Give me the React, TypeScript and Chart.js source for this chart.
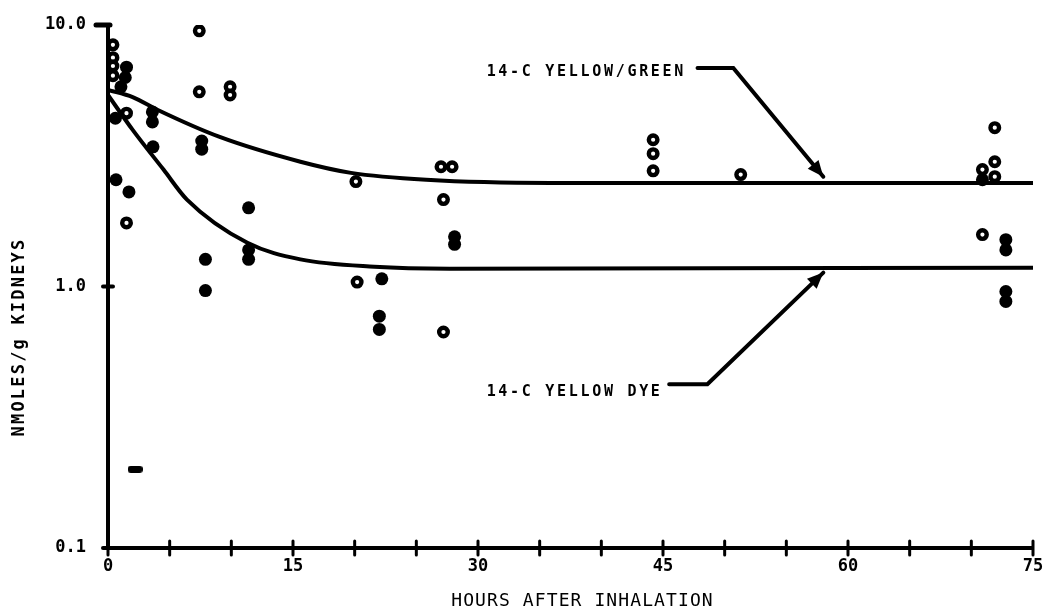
import React, { useEffect, useRef } from 'react';
import { Chart, registerables } from 'chart.js';

Chart.register(...registerables);

// ---- axis tick labels ----
const xTickLabels = [0, 15, 30, 45, 60, 75];
const yTickValues = [0.1, 1.0, 10.0];

// ---- 14-C yellow/green (open circles) ----
const greenHours = [0.4, 0.4, 0.4, 0.4, 1.5, 1.5, 7.4, 7.4, 9.9, 9.9, 20.1, 20.2, 27.2, 27.0, 27.9, 27.2, 44.2, 44.2, 44.2, 51.3, 71.9, 71.9, 71.9, 70.9, 70.9];
const greenValues = [8.4, 7.5, 6.97, 6.4, 4.6, 1.75, 9.5, 5.55, 5.8, 5.4, 2.52, 1.04, 2.15, 2.87, 2.87, 0.67, 3.64, 3.22, 2.77, 2.68, 4.05, 3.0, 2.63, 1.58, 2.8];

// ---- 14-C yellow dye (filled dots) ----
const dyeHours = [1.5, 1.4, 1.05, 0.6, 0.65, 1.7, 3.6, 3.6, 3.65, 7.6, 7.6, 7.9, 7.9, 11.4, 11.4, 11.4, 22.2, 22.0, 22.0, 28.1, 28.1, 72.8, 72.8, 72.8, 72.8, 70.9];
const dyeValues = [6.9, 6.3, 5.8, 4.4, 2.56, 2.3, 4.65, 4.26, 3.42, 3.6, 3.35, 1.27, 0.965, 2.0, 1.38, 1.27, 1.07, 0.77, 0.685, 1.55, 1.45, 1.51, 1.38, 0.957, 0.877, 2.56];

// ---- stray dash mark ----
const dashHours = [2.2];
const dashValues = [0.2];

// ---- fitted curves ----
const greenCurveHours = [0, 2, 4, 9, 15.6, 19.7, 25.8, 35.9, 75];
const greenCurveValues = [5.65, 5.3, 4.74, 3.74, 3.0, 2.72, 2.56, 2.49, 2.49];
const dyeCurveHours = [0, 2, 4.5, 6.4, 11.3, 15.6, 21.6, 27.7, 75];
const dyeCurveValues = [5.4, 3.97, 2.8, 2.15, 1.47, 1.27, 1.19, 1.17, 1.18];

// ---- annotation labels (data coordinates) ----
const annotations = [
  { text: '14-C YELLOW/GREEN', at: [30.7, 6.59], path: [[47.8, 6.85], [50.7, 6.85], [58.0, 2.63]] },
  { text: '14-C YELLOW DYE', at: [30.7, 0.394], path: [[45.5, 0.423], [48.6, 0.423], [58.0, 1.13]] },
];

const xTitle = 'HOURS AFTER INHALATION';
const yTitle = 'NMOLES/g KIDNEYS';

const pts = (xs: number[], ys: number[]) => xs.map((x, i) => ({ x, y: ys[i] }));

function makeDash(): HTMLCanvasElement {
  const c = document.createElement('canvas');
  c.width = 15;
  c.height = 7;
  const g = c.getContext('2d')!;
  g.fillStyle = '#000';
  g.beginPath();
  (g as any).roundRect ? (g as any).roundRect(0, 0, 15, 7, 3) : g.rect(0, 0, 15, 7);
  g.fill();
  return c;
}

const decorPlugin = {
  id: 'decor',
  afterDraw(chart: any) {
    const { ctx, scales } = chart;
    const x = scales.x;
    const y = scales.y;
    ctx.save();
    ctx.strokeStyle = '#000';
    ctx.fillStyle = '#000';
    ctx.lineCap = 'round';
    // x tick marks crossing the axis
    ctx.lineWidth = 3;
    x.ticks.forEach((t: any) => {
      const px = x.getPixelForValue(t.value);
      ctx.beginPath();
      ctx.moveTo(px, y.bottom - 7);
      ctx.lineTo(px, y.bottom + 7);
      ctx.stroke();
    });
    // y tick marks
    yTickValues.forEach((v) => {
      const py = y.getPixelForValue(v);
      ctx.beginPath();
      if (v === 10) {
        ctx.lineWidth = 5;
        ctx.moveTo(x.left - 12, py);
        ctx.lineTo(x.left + 2, py);
      } else {
        ctx.lineWidth = 4;
        ctx.moveTo(x.left - 5, py);
        ctx.lineTo(x.left + 5, py);
      }
      ctx.stroke();
    });
    // annotations
    ctx.font = 'bold 15px "DejaVu Sans Mono"';
    (ctx as any).letterSpacing = '2.7px';
    ctx.textBaseline = 'middle';
    ctx.textAlign = 'left';
    annotations.forEach((a) => {
      ctx.fillText(a.text, x.getPixelForValue(a.at[0]), y.getPixelForValue(a.at[1]));
      const p = a.path.map(([hx, hv]) => [x.getPixelForValue(hx), y.getPixelForValue(hv)]);
      ctx.lineWidth = 4;
      ctx.lineCap = 'round';
      ctx.beginPath();
      ctx.moveTo(p[0][0], p[0][1]);
      for (let i = 1; i < p.length; i++) ctx.lineTo(p[i][0], p[i][1]);
      ctx.stroke();
      const [x1, y1] = p[p.length - 2];
      const [x2, y2] = p[p.length - 1];
      const ang = Math.atan2(y2 - y1, x2 - x1);
      const L = 16, W = 7;
      ctx.beginPath();
      ctx.moveTo(x2, y2);
      ctx.lineTo(x2 - L * Math.cos(ang) + W * Math.sin(ang), y2 - L * Math.sin(ang) - W * Math.cos(ang));
      ctx.lineTo(x2 - L * Math.cos(ang) - W * Math.sin(ang), y2 - L * Math.sin(ang) + W * Math.cos(ang));
      ctx.closePath();
      ctx.fill();
    });
    // axis titles
    ctx.font = '18px "DejaVu Sans Mono"';
    (ctx as any).letterSpacing = '1.1px';
    ctx.textAlign = 'center';
    ctx.fillText(xTitle, (x.left + x.right) / 2 + 12, 601);
    ctx.translate(20, 337);
    ctx.rotate(-Math.PI / 2);
    ctx.font = 'bold 17px "DejaVu Sans Mono"';
    (ctx as any).letterSpacing = '2.2px';
    ctx.fillText(yTitle, 0, 0);
    ctx.restore();
  },
};

export default function App() {
  const ref = useRef<HTMLCanvasElement | null>(null);
  useEffect(() => {
    if (!ref.current) return;
    const chart = new Chart(ref.current, {
      type: 'scatter',
      data: {
        datasets: [
          {
            label: 'yellow/green curve',
            data: pts(greenCurveHours, greenCurveValues),
            showLine: true,
            cubicInterpolationMode: 'monotone',
            borderColor: '#000',
            borderWidth: 4,
            pointRadius: 0,
          },
          {
            label: 'yellow dye curve',
            data: pts(dyeCurveHours, dyeCurveValues),
            showLine: true,
            cubicInterpolationMode: 'monotone',
            borderColor: '#000',
            borderWidth: 4,
            pointRadius: 0,
          },
          {
            label: '14-C yellow/green',
            data: pts(greenHours, greenValues),
            pointStyle: 'circle',
            pointRadius: 4.3,
            borderWidth: 4.4,
            borderColor: '#000',
            backgroundColor: '#fff',
          },
          {
            label: '14-C yellow dye',
            data: pts(dyeHours, dyeValues),
            pointStyle: 'circle',
            pointRadius: 6.5,
            borderWidth: 0,
            backgroundColor: '#000',
            borderColor: '#000',
          },
          {
            label: 'dash',
            data: pts(dashHours, dashValues),
            pointStyle: makeDash(),
            pointRadius: 6,
            borderWidth: 0,
            backgroundColor: '#000',
          },
        ],
      } as any,
      plugins: [decorPlugin],
      options: {
        animation: false,
        responsive: false,
        devicePixelRatio: 1,
        layout: { autoPadding: false, padding: { left: 0, right: 17, top: 25, bottom: 0 } },
        plugins: { legend: { display: false }, tooltip: { enabled: false } },
        scales: {
          x: {
            type: 'linear',
            min: 0,
            max: 75,
            ticks: {
              stepSize: 5,
              autoSkip: false,
              maxRotation: 0,
              padding: 8,
              color: '#000',
              font: { family: '"DejaVu Sans Mono"', size: 17, weight: 'bold' },
              callback: (v: any) => (xTickLabels.includes(v) ? String(v) : ''),
            },
            grid: { display: false, drawTicks: false },
            border: { display: true, color: '#000', width: 4 },
            afterFit: (s: any) => { s.height = 65; s.paddingLeft = 0; s.paddingRight = 0; },
          },
          y: {
            type: 'logarithmic',
            min: 0.1,
            max: 10,
            afterBuildTicks: (s: any) => { s.ticks = yTickValues.map((v) => ({ value: v })); },
            ticks: {
              padding: 22,
              color: '#000',
              font: { family: '"DejaVu Sans Mono"', size: 17, weight: 'bold' },
              callback: (v: any) => Number(v).toFixed(1),
            },
            grid: { display: false, drawTicks: false },
            border: { display: true, color: '#000', width: 4 },
            afterFit: (s: any) => { s.width = 108; s.paddingTop = 0; s.paddingBottom = 0; },
          },
        },
      } as any,
    });
    return () => chart.destroy();
  }, []);
  return (
    <div style={{ position: 'absolute', left: 0, top: 0, width: 1050, height: 613, background: '#fff' }}>
      <canvas ref={ref} width={1050} height={613} style={{ display: 'block' }} />
    </div>
  );
}
